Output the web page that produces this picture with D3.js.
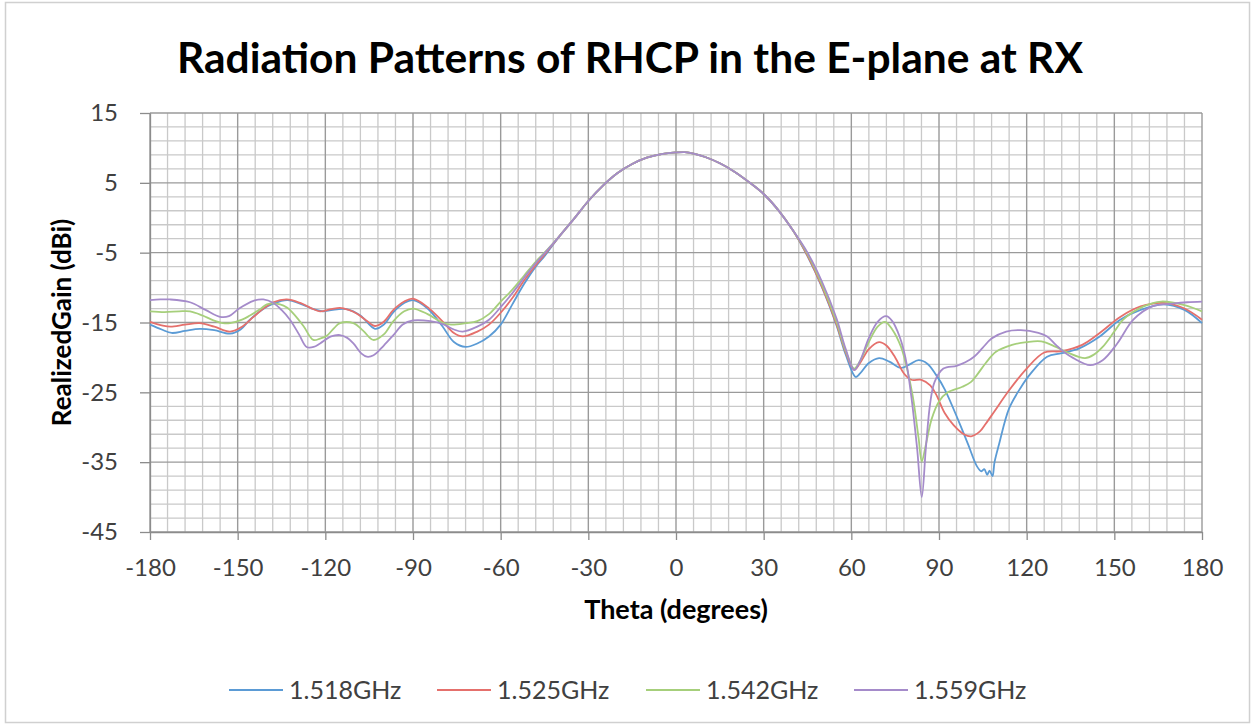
<!DOCTYPE html>
<html><head><meta charset="utf-8">
<script src="https://cdn.jsdelivr.net/npm/d3@7"></script>
<style>
body{margin:0;background:#fff}
text{font-family:Lato,"Open Sans","DejaVu Sans",sans-serif}
</style>
</head><body>
<svg id="chart" width="1252" height="725"></svg>
<script>
// ---------- data ----------
const chartTitle = "Radiation Patterns of RHCP in the E-plane at RX";
const xTitle = "Theta (degrees)";
const yTitle = "RealizedGain (dBi)";
const seriesNames = ["1.518GHz","1.525GHz","1.542GHz","1.559GHz"];
const seriesColors = ["#5b9bd5","#e5706c","#a6cf7b","#a58bca"];
const xTicks = [-180,-150,-120,-90,-60,-30,0,30,60,90,120,150,180];
const yTicks = [-45,-35,-25,-15,-5,5,15];

const beamTheta = [-40,-35,-30,-25,-20,-15,-10,-5,0,3,6,10,15,20,25,30,35,40];
const beamGain  = [-2.7,-0.2,2.4,4.6,6.4,7.7,8.6,9.1,9.35,9.4,9.2,8.7,7.8,6.6,5.1,3.4,1.1,-1.8];

const theta1518 = [-180,-176,-172.6,-168,-163,-158,-152.6,-149,-145.8,-141,-137.8,-133,-128,-124,-120.8,-116,-112.7,-108,-103,-100,-96.7,-93,-90,-85,-80,-76,-72,-68,-64,-60,-56,-52,-48,-45];
const gain1518  = [-15.3,-16.0,-16.5,-16.2,-15.9,-16.1,-16.6,-16.0,-14.6,-13.0,-12.3,-11.8,-12.4,-13.1,-13.4,-13.1,-13.1,-14.0,-15.9,-15.3,-13.5,-12.2,-11.8,-13.0,-15.5,-17.8,-18.5,-18.0,-17.0,-15.3,-12.4,-9.5,-7.0,-5.5];
const theta1518b = [45,50,55,58,61.5,63,66,69.5,73,77,80,83,86,89,92,97,100,103,104.5,105.5,106.5,107.3,108.3,109,110.5,114,118,121,127,132,138,145,152,159,167,174,180];
const gain1518b  = [-5.5,-10.0,-15.5,-19.5,-22.8,-22.3,-20.8,-20.1,-20.6,-21.5,-21.0,-20.4,-20.9,-22.5,-24.6,-29.4,-32.5,-35.6,-36.3,-36.0,-36.8,-36.2,-37.0,-35.0,-32.5,-27.3,-24.3,-22.5,-19.9,-19.4,-18.7,-17.0,-14.6,-13.2,-12.4,-13.2,-15.1];

const theta1525 = [-180,-176,-173,-168,-163,-158,-152.6,-148.5,-144.6,-140.5,-137.8,-133.2,-128.6,-124,-121.8,-118,-115,-112,-109.3,-106,-103,-100,-96.7,-93,-90,-85,-80,-76,-73,-68,-64,-60,-56,-52,-48,-45];
const gain1525  = [-14.9,-15.4,-15.6,-15.3,-15.1,-15.6,-16.3,-15.6,-14.2,-12.8,-12.1,-11.7,-12.2,-13.1,-13.4,-13.1,-12.9,-13.2,-13.7,-14.7,-15.5,-14.9,-13.2,-12.0,-11.6,-12.8,-14.8,-16.5,-17.0,-16.3,-15.3,-13.6,-11.5,-9.0,-6.8,-5.3];
const theta1525b = [45,50,55,58,61,63,66,69.5,72,75,78,80.5,84,87,89,92,95,98.5,101,104,106,109,114,120,126,132,139,145,152,159,167,174,180];
const gain1525b  = [-5.4,-9.9,-15.3,-19.2,-21.8,-20.8,-18.8,-17.8,-18.3,-20.0,-22.3,-23.2,-23.2,-24.0,-25.3,-28.0,-29.7,-31.0,-31.3,-30.6,-29.5,-27.7,-24.7,-21.6,-19.3,-19.1,-18.2,-16.5,-14.2,-12.7,-12.2,-13.0,-14.6];

const theta1542 = [-180,-175,-170,-166.3,-162,-158.3,-155,-152.6,-148.5,-145.8,-142,-140,-135.5,-133,-131,-127.5,-124.1,-121.8,-119.5,-117,-115,-110.4,-107,-103.6,-100,-96.7,-93,-90,-85,-80,-77,-72,-68,-64,-60,-56,-52,-48,-45];
const gain1542  = [-13.4,-13.5,-13.4,-13.4,-14.0,-14.7,-15.1,-15.1,-14.6,-14.0,-13.0,-12.4,-12.4,-12.9,-13.7,-15.5,-17.5,-17.3,-16.9,-15.8,-15.1,-15.1,-16.2,-17.5,-16.7,-14.8,-13.4,-13.0,-13.8,-15.0,-15.3,-15.1,-14.8,-13.8,-12.0,-10.3,-8.3,-6.3,-5.0];
const theta1542b = [45,50,55,58,61,63,66,69,71.5,74,77,79,81,83,84.1,85.5,87.5,90,93,98,101,103,106,109.5,115,120,125,130,134,140,143,146,150,153,160,166,174,180];
const gain1542b  = [-5.2,-9.6,-15.0,-19.0,-21.6,-20.5,-17.8,-15.6,-14.9,-16.0,-18.5,-21.5,-25.5,-31.5,-34.9,-32.5,-28.8,-26.3,-25.0,-24.2,-23.5,-22.5,-20.8,-19.2,-18.2,-17.8,-17.7,-18.5,-19.3,-20.1,-19.6,-18.5,-16.3,-14.6,-12.7,-12.0,-12.5,-13.4];

const theta1559 = [-180,-176.5,-173.2,-166.3,-161,-156,-153,-149.5,-144.6,-141.2,-137.8,-135,-132.1,-129,-126.4,-124,-121.8,-118,-115,-112.5,-110.4,-107.5,-105.8,-103.5,-100,-96.7,-93.5,-90,-84,-80,-76,-73,-68,-64,-60,-56,-52,-48,-45];
const gain1559  = [-11.8,-11.7,-11.7,-12.1,-13.2,-14.2,-14.1,-13.0,-11.9,-11.7,-12.2,-13.2,-14.6,-16.7,-18.5,-18.5,-18.0,-17.0,-16.8,-17.2,-18.0,-19.5,-19.9,-19.7,-18.3,-16.8,-15.3,-14.7,-14.8,-15.2,-16.0,-16.3,-15.6,-14.6,-12.8,-10.8,-8.6,-6.5,-5.1];
const theta1559b = [45,50,55,58,61,63,66,69,71.9,74,76.5,78.5,80.5,82.5,84.1,85.5,87,88.5,91.5,96,99,102,105,108,113,118,124,127,130,133,136,141.7,146,151,156.5,163,170,175,180];
const gain1559b  = [-5.0,-9.2,-14.5,-18.7,-21.8,-20.5,-17.2,-14.9,-14.1,-14.8,-17.0,-20.0,-25.5,-33.0,-40.0,-33.0,-26.5,-23.5,-21.6,-21.2,-20.7,-19.9,-18.6,-17.3,-16.3,-16.1,-16.5,-17.0,-18.2,-19.3,-20.1,-21.1,-20.4,-18.0,-14.6,-12.7,-12.3,-12.1,-12.0];

// ---------- build series ----------
function build(tA, gA, tB, gB){
  const t = tA.concat(beamTheta, tB), g = gA.concat(beamGain, gB);
  return t.map((d,i)=>({t:d, g:g[i]}));
}
const series = [
  build(theta1518, gain1518, theta1518b, gain1518b),
  build(theta1525, gain1525, theta1525b, gain1525b),
  build(theta1542, gain1542, theta1542b, gain1542b),
  build(theta1559, gain1559, theta1559b, gain1559b)
];

// ---------- layout ----------
const svg = d3.select("#chart");
const L = 150, R = 1202, T = 113, B = 532;
const x = d3.scaleLinear().domain([-180,180]).range([L,R]);
const y = d3.scaleLinear().domain([-45,15]).range([B,T]);

svg.append("rect").attr("x",5.5).attr("y",2.5).attr("width",1244).attr("height",720)
  .attr("fill","#fff").attr("stroke","#d0d0d0").attr("stroke-width",1.5);

// grid
const g = svg.append("g");
const minorX = d3.range(-180,181,6).filter(v=>v%30!==0);
const minorY = d3.range(-45,16,2).filter(v=>(v+45)%10!==0);
g.selectAll(".mx").data(minorX).join("line")
  .attr("x1",d=>x(d)).attr("x2",d=>x(d)).attr("y1",T).attr("y2",B)
  .attr("stroke","#c9c9c9").attr("stroke-width",1.3);
g.selectAll(".my").data(minorY).join("line")
  .attr("y1",d=>y(d)).attr("y2",d=>y(d)).attr("x1",L).attr("x2",R)
  .attr("stroke","#c9c9c9").attr("stroke-width",1.3);
g.selectAll(".Mx").data(xTicks).join("line")
  .attr("x1",d=>x(d)).attr("x2",d=>x(d)).attr("y1",T).attr("y2",B)
  .attr("stroke","#9a9a9a").attr("stroke-width",1.4);
g.selectAll(".My").data(yTicks).join("line")
  .attr("y1",d=>y(d)).attr("y2",d=>y(d)).attr("x1",L).attr("x2",R)
  .attr("stroke","#9a9a9a").attr("stroke-width",1.4);

// axes
const fmt = d => String(d);
const ax = svg.append("g").attr("transform",`translate(0,${B})`)
  .call(d3.axisBottom(x).tickValues(xTicks).tickFormat(fmt).tickSize(8).tickPadding(19).tickSizeOuter(0));
const ay = svg.append("g").attr("transform",`translate(${L},0)`)
  .call(d3.axisLeft(y).tickValues(yTicks).tickFormat(fmt).tickSize(10).tickPadding(22).tickSizeOuter(0));
[ax,ay].forEach(a=>{
  a.select(".domain").attr("stroke","#8c8c8c").attr("stroke-width",1.3);
  a.selectAll(".tick line").attr("stroke","#8c8c8c").attr("stroke-width",1.3);
  a.selectAll(".tick text").attr("fill","#404040").style("font-size","24px")
   .style("font-family","Lato,'Open Sans',sans-serif");
});

// lines
const line = d3.line().x(d=>x(d.t)).y(d=>y(d.g)).curve(d3.curveCatmullRom.alpha(0.5));
svg.append("g").selectAll("path").data(series).join("path")
  .attr("d",line).attr("fill","none")
  .attr("stroke",(d,i)=>seriesColors[i]).attr("stroke-width",1.8)
  .attr("stroke-linejoin","round");

// titles
svg.append("text").attr("x",630).attr("y",73).attr("text-anchor","middle")
  .style("font-size","42.5px").style("font-weight","700").attr("fill","#000").text(chartTitle);
svg.append("text").attr("x",676).attr("y",619).attr("text-anchor","middle")
  .style("font-size","27px").style("font-weight","700").attr("fill","#000").text(xTitle);
svg.append("text").attr("transform",`translate(71,${(T+B)/2}) rotate(-90)`).attr("text-anchor","middle")
  .style("font-size","26px").style("font-weight","700").attr("fill","#000").text(yTitle);

// legend
const legX = [229,437,646,854];
const leg = svg.append("g").selectAll("g").data(seriesNames).join("g")
  .attr("transform",(d,i)=>`translate(${legX[i]},690)`);
leg.append("line").attr("x1",0).attr("x2",54).attr("y1",0).attr("y2",0)
  .attr("stroke",(d,i)=>seriesColors[i]).attr("stroke-width",2);
leg.append("text").attr("x",60).attr("y",8.5).style("font-size","25px").attr("fill","#404040").text(d=>d);
</script>
</body></html>
